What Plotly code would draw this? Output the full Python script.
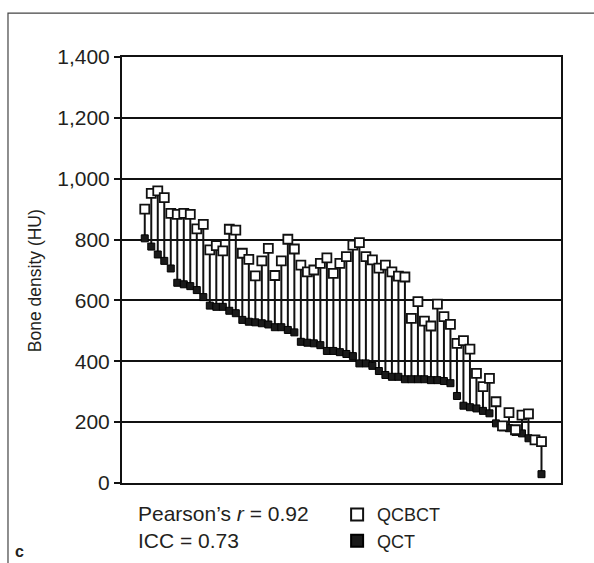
import plotly.graph_objects as go

# Subject index (sorted by QCT value)
subjects = list(range(1, 63))

qcbct = [900, 952, 960, 938, 886, 883, 886, 883, 835, 850,
         766, 780, 763, 834, 831, 755, 735, 681, 730, 771,
         682, 730, 801, 769, 716, 694, 700, 722, 740, 689,
         722, 744, 782, 790, 744, 733, 706, 716, 694, 680,
         677, 541, 596, 532, 516, 588, 547, 521, 459, 468,
         440, 360, 317, 344, 267, 188, 231, 175, 223, 227,
         142, 136]

qct = [804, 777, 751, 730, 705, 658, 653, 647, 634, 611,
       583, 579, 579, 566, 558, 536, 530, 528, 525, 521,
       512, 512, 503, 495, 464, 461, 459, 453, 434, 434,
       430, 424, 417, 393, 393, 385, 368, 355, 349, 349,
       341, 341, 341, 341, 338, 338, 335, 328, 286, 254,
       249, 245, 237, 229, 196, 183, 180, 168, 163, 147,
       140, 29]

y_ticks = [0, 200, 400, 600, 800, 1000, 1200, 1400]
y_tick_text = ["0", "200", "400", "600", "800", "1,000", "1,200", "1,400"]

FONT = "Liberation Sans"
TXT = "#231f20"

# connector segments
seg_x, seg_y = [], []
for s, a, b in zip(subjects, qcbct, qct):
    seg_x += [s, s, None]
    seg_y += [a, b, None]

fig = go.Figure()
fig.add_trace(go.Scatter(x=seg_x, y=seg_y, mode="lines",
                         line=dict(color="#111", width=2),
                         showlegend=False, hoverinfo="skip"))
fig.add_trace(go.Scatter(x=subjects, y=qct, mode="markers", name="QCT",
                         marker=dict(symbol="square", size=7, color="#1a1a1a",
                                     line=dict(color="#000", width=1))))
fig.add_trace(go.Scatter(x=subjects, y=qcbct, mode="markers", name="QCBCT",
                         marker=dict(symbol="square", size=9, color="white",
                                     line=dict(color="#111", width=1.8))))

fig.update_layout(
    width=594, height=563,
    margin=dict(l=122, r=33, t=57, b=80, autoexpand=False),
    paper_bgcolor="white", plot_bgcolor="white",
    font=dict(family=FONT, color=TXT, size=17),
    showlegend=True,
    legend=dict(x=0.49, y=-0.031, xanchor="left", yanchor="top",
                traceorder="reversed", font=dict(size=18, family=FONT, color=TXT),
                bgcolor="rgba(0,0,0,0)", itemsizing="constant"),
    xaxis=dict(range=[-2.5, 65], showgrid=False, zeroline=False,
               showticklabels=False, ticks="", showline=True, mirror=True,
               linecolor="#111", linewidth=2),
    yaxis=dict(range=[0, 1400], tickvals=y_ticks, ticktext=y_tick_text,
               showgrid=True, gridcolor="#111", gridwidth=2, zeroline=False,
               showline=True, mirror=True, linecolor="#111", linewidth=2,
               ticks="outside", ticklen=6, tickwidth=2, tickcolor="#111",
               tickfont=dict(size=21, family=FONT, color=TXT)),
    annotations=[
        dict(text="Bone density (HU)", textangle=-90, xref="paper", yref="paper",
             x=-0.198, y=0.474, xanchor="center", yanchor="middle", showarrow=False,
             font=dict(size=17.5, family=FONT, color=TXT)),
        dict(text="Pearson\u2019s <i>r</i> = 0.92", xref="paper", yref="paper",
             x=0.031, y=-0.072, xanchor="left", yanchor="middle", showarrow=False,
             font=dict(size=21, family=FONT, color=TXT)),
        dict(text="ICC = 0.73", xref="paper", yref="paper",
             x=0.031, y=-0.136, xanchor="left", yanchor="middle", showarrow=False,
             font=dict(size=21, family=FONT, color=TXT)),
        dict(text="<b>c</b>", xref="paper", yref="paper",
             x=-0.248, y=-0.16, xanchor="left", yanchor="middle", showarrow=False,
             font=dict(size=16, family=FONT, color=TXT)),
    ],
    shapes=[
        dict(type="rect", xref="paper", yref="paper",
             x0=-0.2597, x1=1.2, y0=-0.3, y1=1.103,
             line=dict(color="#444", width=1.2), fillcolor="rgba(0,0,0,0)", layer="below"),
    ],
)

fig.write_html("out.html")
